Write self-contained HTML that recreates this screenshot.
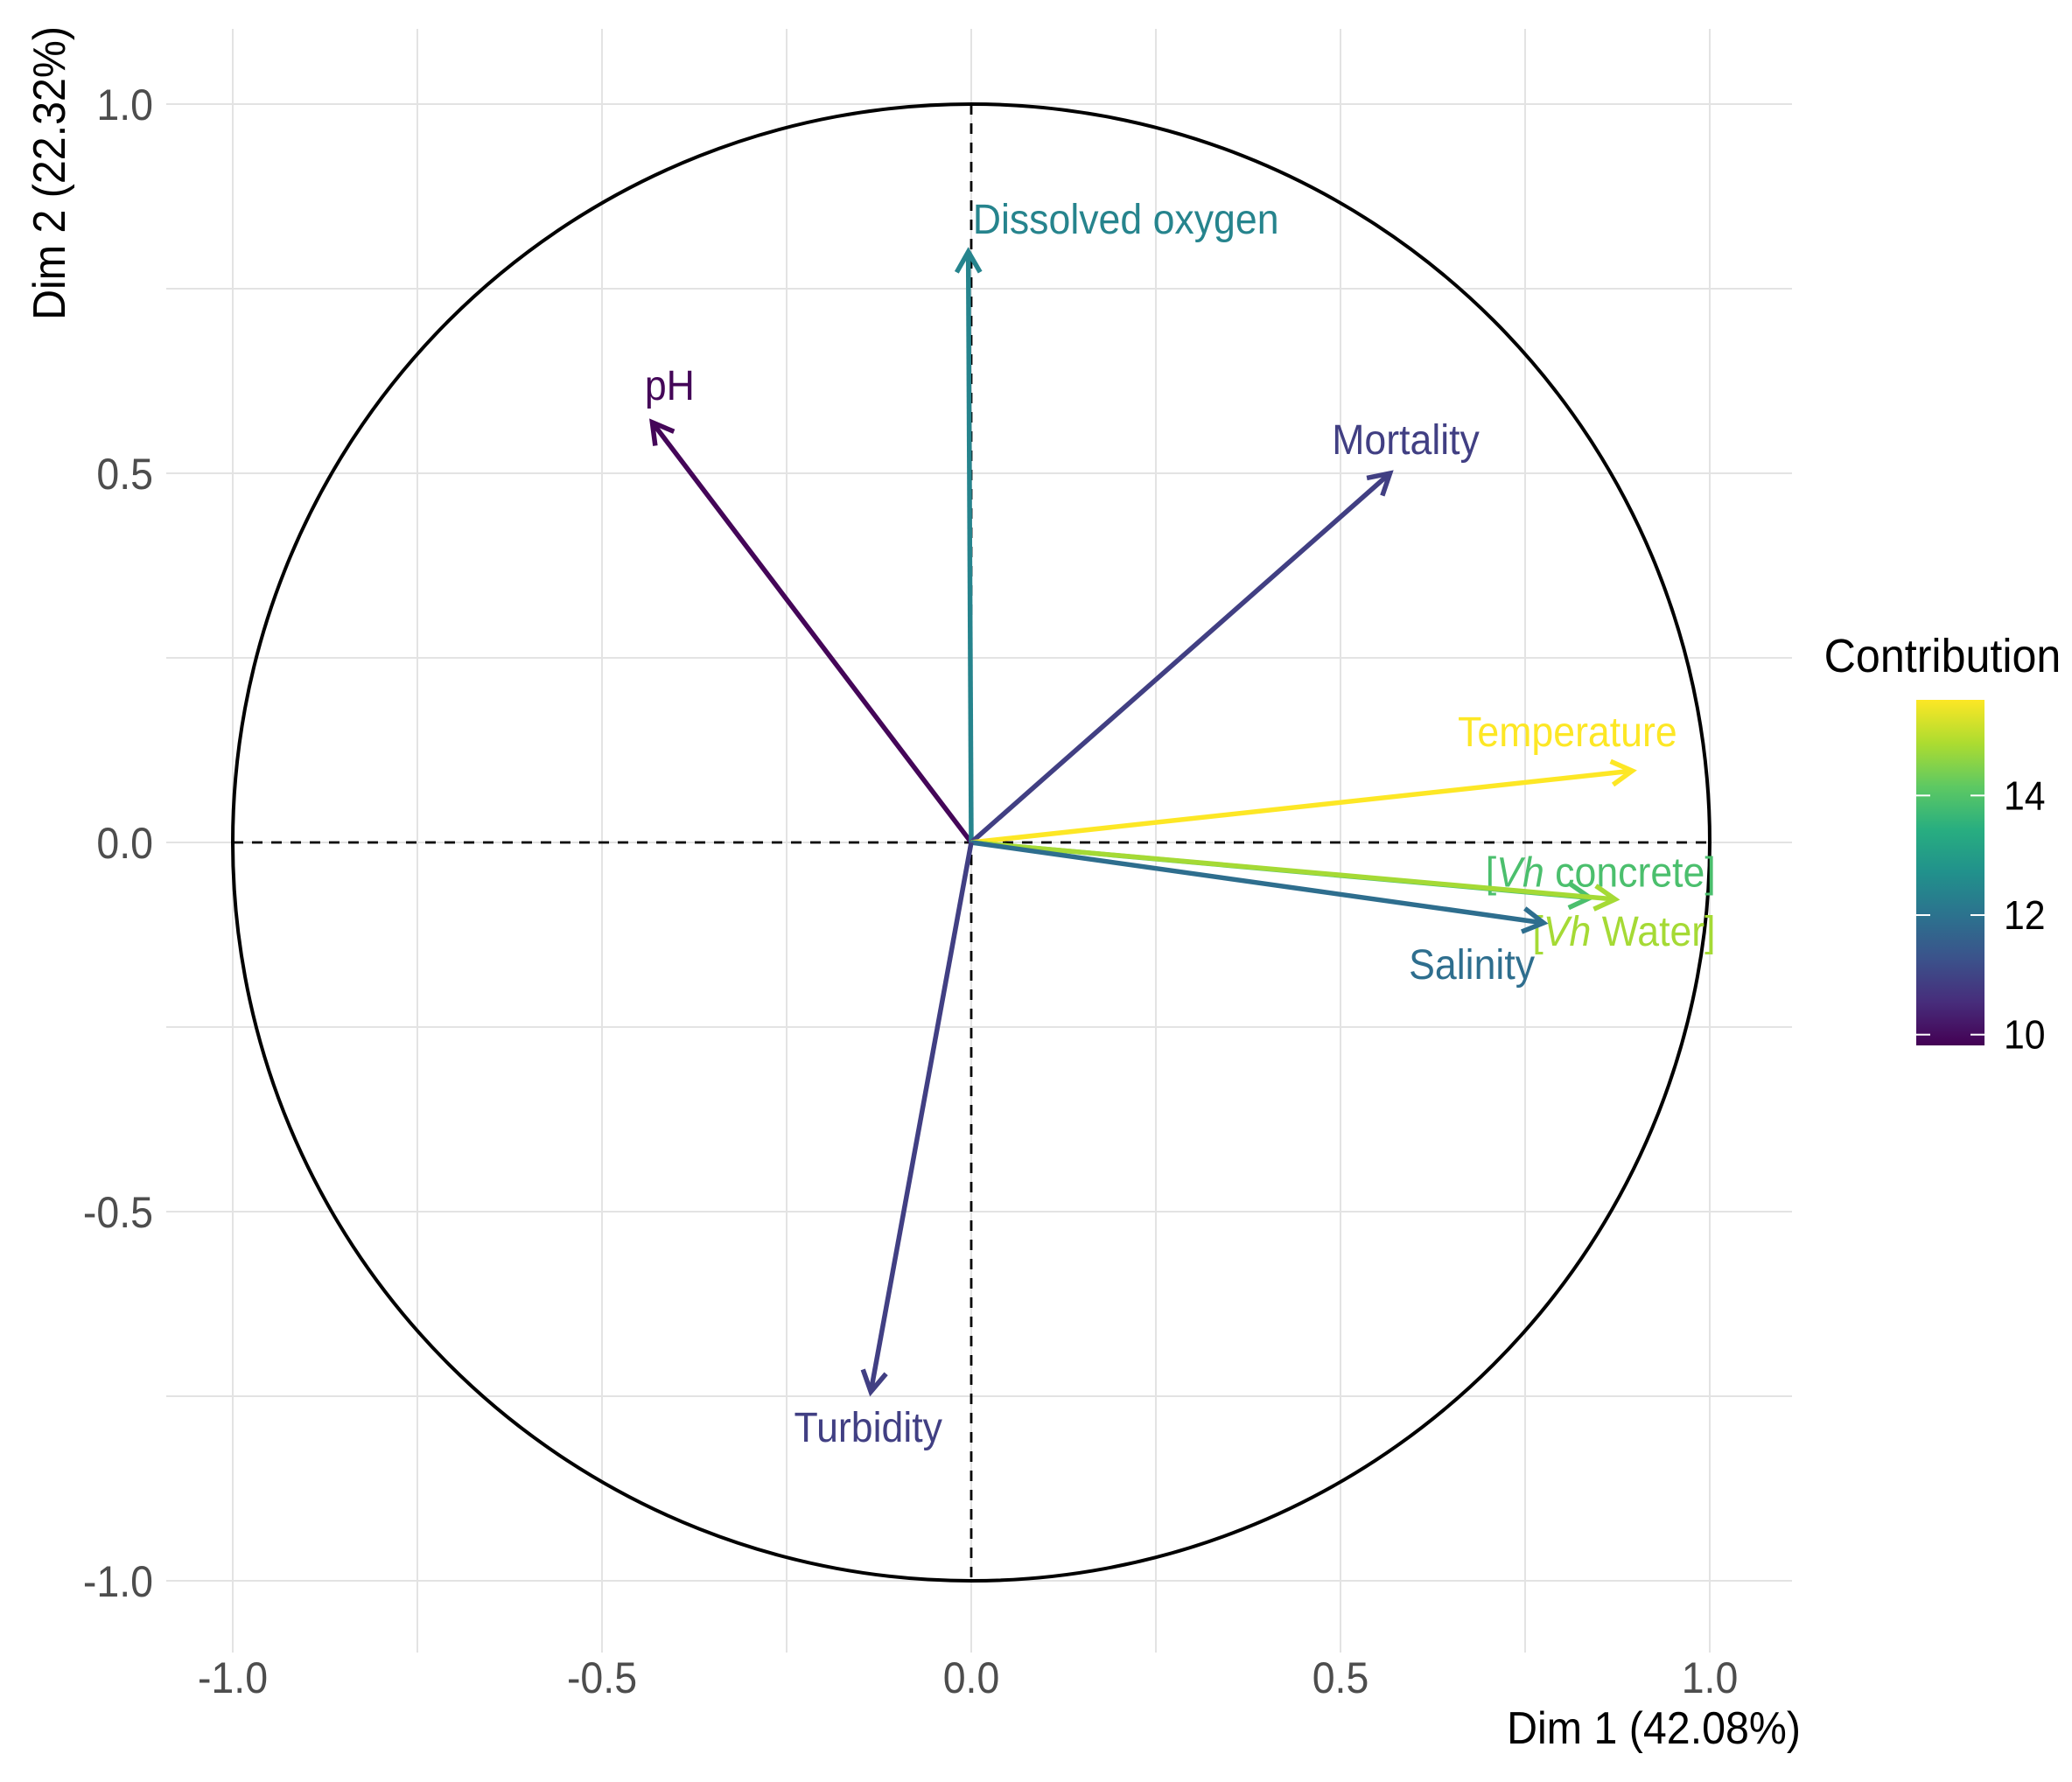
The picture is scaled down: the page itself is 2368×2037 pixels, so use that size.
<!DOCTYPE html>
<html><head><meta charset="utf-8"><style>
html,body{margin:0;padding:0;background:#fff;}
svg{display:block;font-family:"Liberation Sans Narrow","Liberation Sans",sans-serif;}
</style></head><body>
<svg id="chart" width="2368" height="2037" viewBox="0 0 2368 2037" xmlns="http://www.w3.org/2000/svg">
<defs>
<linearGradient id="vgrad" x1="0" y1="1" x2="0" y2="0">
<stop offset="0" stop-color="#440154"/><stop offset="0.125" stop-color="#472d7b"/>
<stop offset="0.25" stop-color="#3b528b"/><stop offset="0.375" stop-color="#2c728e"/>
<stop offset="0.5" stop-color="#21918c"/><stop offset="0.625" stop-color="#28ae80"/>
<stop offset="0.75" stop-color="#5ec962"/><stop offset="0.875" stop-color="#addc30"/>
<stop offset="1" stop-color="#fde725"/>
</linearGradient>
</defs>
<g id="grid"></g>
<g id="axes"></g>
<g id="marks"></g>
<g id="legend"></g>
</svg>
<script>
const varNames = ["pH","Dissolved oxygen","Mortality","Temperature","[Vh concrete]","[Vh Water]","Salinity","Turbidity"];
const dim1 = [-0.432,-0.004,0.567,0.895,0.838,0.872,0.775,-0.136];
const dim2 = [0.569,0.80,0.50,0.097,-0.075,-0.077,-0.109,-0.744];
const contrib = [9.9,12.4,10.9,15.6,13.9,14.8,11.9,10.9];
const xTicks = [-1.0,-0.5,0.0,0.5,1.0];
const yTicks = [-1.0,-0.5,0.0,0.5,1.0];
const tickLabels = ["-1.0","-0.5","0.0","0.5","1.0"];
const legendTicks = [10,12,14];
const cMin = 9.82, cMax = 15.6;

const NS="http://www.w3.org/2000/svg";
const X0=1110, Y0=963, U=844, SQ=0.93;
const sx=v=>X0+v*U, sy=v=>Y0-v*U;
function mk(parent,tag,attrs){const e=document.createElementNS(NS,tag);for(const k in attrs)e.setAttribute(k,attrs[k]);parent.appendChild(e);return e;}
function txt(parent,x,y,attrs){const a=Object.assign({x:0,y:0,transform:'translate('+x+','+y+') scale('+SQ+',1)'},attrs);return mk(parent,'text',a);}
const vir=["#440154","#472d7b","#3b528b","#2c728e","#21918c","#28ae80","#5ec962","#addc30","#fde725"];
function hex(h){return [1,3,5].map(i=>parseInt(h.substr(i,2),16));}
function viridis(t){t=Math.max(0,Math.min(1,t));const p=t*8,i=Math.min(7,Math.floor(p)),f=p-i;const a=hex(vir[i]),b=hex(vir[i+1]);return "rgb("+a.map((v,k)=>Math.round(v+(b[k]-v)*f)).join(",")+")";}

const grid=document.getElementById('grid');
const L=190,R=2048,T=33,B=1889;
for(let v=-1;v<=1.001;v+=0.25){
  const gx=mk(grid,'line',{x1:sx(v),x2:sx(v),y1:T,y2:B,stroke:'#e3e3e3','stroke-width':2});
  
  
  const gy=mk(grid,'line',{x1:L,x2:R,y1:sy(v),y2:sy(v),stroke:'#e3e3e3','stroke-width':2});
  
  
}
const axes=document.getElementById('axes');
xTicks.forEach((v,i)=>{const t=txt(axes,sx(v),1935,{'text-anchor':'middle','font-size':50,fill:'#4d4d4d'});t.textContent=tickLabels[i];

});
yTicks.forEach((v,i)=>{const t=txt(axes,175,sy(v)+18,{'text-anchor':'end','font-size':50,fill:'#4d4d4d'});t.textContent=tickLabels[i];

});
let t=txt(axes,2058,1993,{'text-anchor':'end','font-size':52,fill:'#000'});t.textContent="Dim 1 (42.08%)";


t=mk(axes,'text',{x:0,y:0,'text-anchor':'end','font-size':52,fill:'#000',transform:'translate(74,30) rotate(-90) scale('+SQ+',1)'});t.textContent="Dim 2 (22.32%)";


const circ=mk(axes,'circle',{cx:X0,cy:Y0,r:U,fill:'none',stroke:'#000','stroke-width':4});


let d=mk(axes,'line',{x1:sx(-1),x2:sx(1),y1:Y0,y2:Y0,stroke:'#000','stroke-width':2.8,'stroke-dasharray':'12 10'});


d=mk(axes,'line',{x1:X0,x2:X0,y1:sy(1),y2:sy(-1),stroke:'#000','stroke-width':2.8,'stroke-dasharray':'12 10'});



const marks=document.getElementById('marks');
const lblDx=[20,180,18,-74,12,10,-82,-3], lblDy=[-42,-37,-38,-44,-29,37,48,41];
varNames.forEach((n,i)=>{
  const c=viridis((contrib[i]-cMin)/(cMax-cMin));
  const x=sx(dim1[i]),y=sy(dim2[i]);
  const g=mk(marks,'g',{});
  
  
  mk(g,'line',{x1:X0,y1:Y0,x2:x,y2:y,stroke:c,'stroke-width':5.5});
  const a=Math.atan2(y-Y0,x-X0),h=27,w=0.52;
  const p1=[x-h*Math.cos(a-w),y-h*Math.sin(a-w)],p2=[x-h*Math.cos(a+w),y-h*Math.sin(a+w)];
  mk(g,'polyline',{points:p1.join(',')+' '+x+','+y+' '+p2.join(','),fill:'none',stroke:c,'stroke-width':5.5,'stroke-linejoin':'miter'});
  const tx=txt(g,x+lblDx[i],y+lblDy[i]+16,{'text-anchor':'middle','font-size':48,fill:c});
  
  
  if(n.indexOf('[Vh')===0){tx.innerHTML='['+'<tspan font-style="italic">Vh</tspan>'+n.slice(3);}else tx.textContent=n;
});

const leg=document.getElementById('legend');
t=txt(leg,2220,768,{'text-anchor':'middle','font-size':54,fill:'#000'});t.textContent="Contribution";


const lt=800,lb=1195,lx=2190,lw=78;
const bar=mk(leg,'rect',{x:lx,y:lt,width:lw,height:lb-lt,fill:'url(#vgrad)'});


legendTicks.forEach(v=>{
  const yy=lb-(v-cMin)/(cMax-cMin)*(lb-lt);
  mk(leg,'line',{x1:lx,x2:lx+16,y1:yy,y2:yy,stroke:'#fff','stroke-width':2});
  mk(leg,'line',{x1:lx+lw-16,x2:lx+lw,y1:yy,y2:yy,stroke:'#fff','stroke-width':2});
  const tt=txt(leg,2290,yy+16,{'font-size':46,fill:'#000'});tt.textContent=v;
  
  
});
</script>
</body></html>
